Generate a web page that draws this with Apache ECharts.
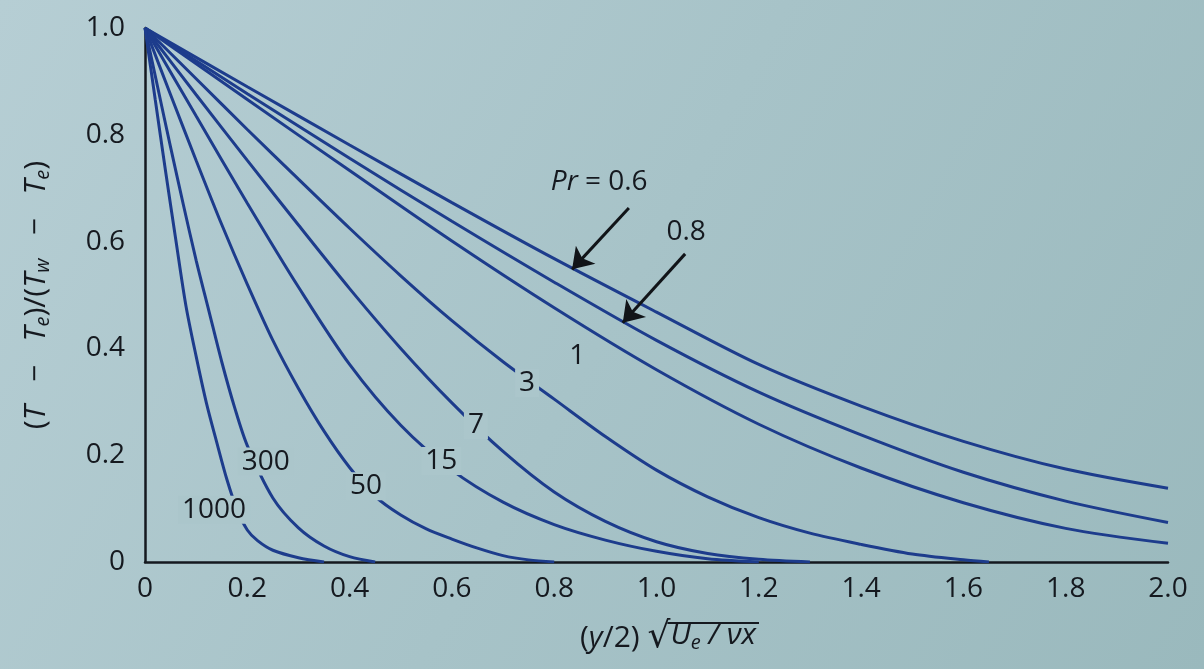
<!DOCTYPE html>
<html><head><meta charset="utf-8">
<script src="https://cdn.jsdelivr.net/npm/echarts@6/dist/echarts.min.js"></script>
<style>html,body{margin:0;padding:0;background:#a9c4c9;} #c{width:1204px;height:669px;}</style>
</head><body><div id="c"></div>
<script>
// ---- data ----
const xTicks = [0, 0.2, 0.4, 0.6, 0.8, 1.0, 1.2, 1.4, 1.6, 1.8, 2.0];
const yTicks = [0, 0.2, 0.4, 0.6, 0.8, 1.0];

const etaLow = [0, 0.2, 0.4, 0.6, 0.8, 1.0, 1.2, 1.4, 1.6, 1.8, 2.0];
const thetaPr06 = [1, 0.89, 0.781, 0.673, 0.568, 0.468, 0.37, 0.292, 0.226, 0.174, 0.138];
const thetaPr08 = [1, 0.877, 0.756, 0.638, 0.524, 0.415, 0.318, 0.238, 0.168, 0.114, 0.074];
const thetaPr1  = [1, 0.866, 0.733, 0.601, 0.476, 0.36, 0.258, 0.176, 0.111, 0.063, 0.035];

const etaPr3   = [0, 0.1, 0.2, 0.3, 0.4, 0.5, 0.6, 0.7, 0.8, 0.9, 1.0, 1.1, 1.2, 1.3, 1.4, 1.5, 1.6, 1.65];
const thetaPr3 = [1, 0.905, 0.81, 0.717, 0.625, 0.536, 0.452, 0.375, 0.305, 0.235, 0.172, 0.122, 0.083, 0.054, 0.033, 0.015, 0.004, 0];

const etaPr7   = [0, 0.1, 0.2, 0.3, 0.4, 0.5, 0.6, 0.7, 0.8, 0.9, 1.0, 1.1, 1.2, 1.3];
const thetaPr7 = [1, 0.875, 0.752, 0.631, 0.512, 0.4, 0.298, 0.207, 0.131, 0.076, 0.038, 0.016, 0.005, 0];

const etaPr15   = [0, 0.1, 0.2, 0.3, 0.4, 0.5, 0.6, 0.7, 0.8, 0.9, 1.0, 1.1, 1.2];
const thetaPr15 = [1, 0.835, 0.672, 0.515, 0.37, 0.256, 0.172, 0.112, 0.07, 0.041, 0.02, 0.006, 0];

const etaPr50   = [0, 0.05, 0.1, 0.15, 0.2, 0.25, 0.3, 0.35, 0.4, 0.45, 0.5, 0.55, 0.6, 0.65, 0.7, 0.75, 0.8];
const thetaPr50 = [1, 0.875, 0.752, 0.632, 0.52, 0.415, 0.325, 0.245, 0.177, 0.123, 0.088, 0.062, 0.043, 0.026, 0.012, 0.004, 0];

const etaPr300   = [0, 0.025, 0.05, 0.075, 0.1, 0.125, 0.15, 0.175, 0.2, 0.25, 0.3, 0.35, 0.4, 0.45];
const thetaPr300 = [1, 0.888, 0.777, 0.669, 0.565, 0.47, 0.375, 0.29, 0.218, 0.12, 0.064, 0.03, 0.01, 0];

const etaPr1000   = [0, 0.02, 0.04, 0.06, 0.08, 0.1, 0.12, 0.14, 0.16, 0.18, 0.2, 0.22, 0.25, 0.3, 0.35];
const thetaPr1000 = [1, 0.866, 0.733, 0.605, 0.48, 0.385, 0.298, 0.225, 0.155, 0.098, 0.06, 0.04, 0.022, 0.008, 0];

const curveLabelText = ['1000', '300', '50', '15', '7', '3'];
const curveLabelX    = [0.135, 0.236, 0.432, 0.579, 0.647, 0.747];
const curveLabelY    = [0.098, 0.188, 0.142, 0.189, 0.256, 0.335];

const plainLabelText = ['1', '{i|Pr} = 0.6', '0.8'];
const plainLabelX    = [0.845, 0.888, 1.058];
const plainLabelY    = [0.385, 0.712, 0.617];

const arrowFrom = [[0.946, 0.663], [1.056, 0.577]];
const arrowTo   = [[0.835, 0.548], [0.934, 0.448]];

// ---- chart ----
const FONT = 'Open Sans';
const LINE = '#1d3c8c';
const INK = '#15191f';
const LABEL_BG = '#abc6cb';
const FS = 28;

const curves = [
  [etaLow, thetaPr06], [etaLow, thetaPr08], [etaLow, thetaPr1],
  [etaPr3, thetaPr3], [etaPr7, thetaPr7], [etaPr15, thetaPr15],
  [etaPr50, thetaPr50], [etaPr300, thetaPr300], [etaPr1000, thetaPr1000]
];

const fmt = v => (v === 0 ? '0' : v.toFixed(1));

const series = curves.map(([xs, ys]) => ({
  type: 'line',
  data: xs.map((x, i) => [x, ys[i]]),
  showSymbol: false,
  smooth: 0.3,
  lineStyle: { color: LINE, width: 3 },
  z: 2,
  silent: true
}));

series.push({
  type: 'lines',
  coordinateSystem: 'cartesian2d',
  data: arrowFrom.map((f, i) => ({ coords: [f, arrowTo[i]] })),
  symbol: ['none', 'arrow'],
  symbolSize: [0, 20],
  lineStyle: { color: '#111418', width: 3, opacity: 1 },
  z: 4,
  silent: true
});

series.push({
  type: 'scatter',
  data: curveLabelText.map((t, i) => [curveLabelX[i], curveLabelY[i], t]),
  symbolSize: 1,
  itemStyle: { color: 'rgba(0,0,0,0)', opacity: 1 },
  label: {
    show: true, position: 'inside', formatter: p => p.value[2],
    fontFamily: FONT, fontSize: FS, color: INK, opacity: 1,
    backgroundColor: LABEL_BG, padding: [0, 4, 0, 4]
  },
  z: 6,
  silent: true
});

series.push({
  type: 'scatter',
  data: plainLabelText.map((t, i) => [plainLabelX[i], plainLabelY[i], t]),
  symbolSize: 1,
  itemStyle: { color: 'rgba(0,0,0,0)', opacity: 1 },
  label: {
    show: true, position: 'inside', formatter: p => p.value[2],
    fontFamily: FONT, fontSize: FS, color: INK, opacity: 1,
    rich: { i: { fontFamily: FONT, fontSize: FS, fontStyle: 'italic', color: INK } }
  },
  z: 6,
  silent: true
});

// x-axis title: (y/2) √(U_e/νx) with a vinculum, laid out from measured widths
const mctx = document.createElement('canvas').getContext('2d');
const tw = (s, f) => { mctx.font = f; return mctx.measureText(s).width; };
const TF = 30;
const fP = TF + 'px "' + FONT + '"';
const fI = 'italic ' + TF + 'px "' + FONT + '"';
const fS = 'italic 20px "' + FONT + '"';
const fR = '36px "DejaVu Sans"';
const w1 = tw('(', fP) + tw('y', fI) + tw('/2) ', fP) + tw('√', fR);
const w2 = tw('U', fI) + tw('e', fS) + tw(' / νx', fI);
const titleLeft = 668 - (w1 + w2) / 2;
const titleTop = 620;

const chart = echarts.init(document.getElementById('c'));
chart.setOption({
  animation: false,
  backgroundColor: new echarts.graphic.LinearGradient(0, 0, 1, 1, [
    { offset: 0, color: '#b6ced4' },
    { offset: 0.5, color: '#a7c3c8' },
    { offset: 1, color: '#9ab9bd' }
  ]),
  grid: { left: 145, right: 36, top: 28, bottom: 107 },
  xAxis: {
    type: 'value', min: xTicks[0], max: xTicks[xTicks.length - 1], interval: 0.2,
    axisLine: { lineStyle: { color: INK, width: 2.5 } },
    axisTick: { show: false }, splitLine: { show: false },
    axisLabel: { formatter: fmt, fontFamily: FONT, fontSize: FS, color: INK, margin: 13 }
  },
  yAxis: {
    type: 'value', min: yTicks[0], max: yTicks[yTicks.length - 1], interval: 0.2,
    axisLine: { lineStyle: { color: INK, width: 2.5 } },
    axisTick: { show: false }, splitLine: { show: false },
    axisLabel: { formatter: fmt, fontFamily: FONT, fontSize: FS, color: INK, margin: 20 },
    name: '{p|(}{i|T}{p|   −   }{i|T}{s|e}{p|)/(}{i|T}{s|w}{p|   −   }{i|T}{s|e}{p|)}',
    nameLocation: 'middle', nameRotate: 90, nameGap: 92,
    nameTextStyle: {
      rich: {
        p: { fontFamily: FONT, fontSize: 30, color: INK, lineHeight: 34 },
        i: { fontFamily: FONT, fontSize: 30, fontStyle: 'italic', color: INK, lineHeight: 34 },
        s: { fontFamily: FONT, fontSize: 20, fontStyle: 'italic', color: INK, lineHeight: 22, verticalAlign: 'bottom', padding: [9, 0, 0, 0] }
      }
    }
  },
  graphic: [
    {
      type: 'text', left: titleLeft, top: titleTop,
      style: {
        text: '{p|(}{i|y}{p|/2) }{r|√}',
        rich: {
          p: { fontFamily: FONT, fontSize: TF, fill: INK, lineHeight: 36 },
          i: { fontFamily: FONT, fontSize: TF, fontStyle: 'italic', fill: INK, lineHeight: 36 },
          r: { fontFamily: 'DejaVu Sans', fontSize: 36, fill: INK, lineHeight: 36 }
        }
      }
    },
    {
      type: 'text', left: titleLeft + w1, top: titleTop,
      style: {
        text: '{i|U}{s|e}{i| / νx}',
        rich: {
          i: { fontFamily: FONT, fontSize: TF, fontStyle: 'italic', fill: INK, lineHeight: 36 },
          s: { fontFamily: FONT, fontSize: 20, fontStyle: 'italic', fill: INK, lineHeight: 22, verticalAlign: 'bottom', padding: [10, 0, 0, 0] }
        }
      }
    },
    {
      type: 'line', shape: { x1: titleLeft + w1 - 3, y1: titleTop + 3, x2: titleLeft + w1 + w2 + 3, y2: titleTop + 3 },
      style: { stroke: INK, lineWidth: 2 }
    }
  ],
  series: series
});
</script>
</body></html>
